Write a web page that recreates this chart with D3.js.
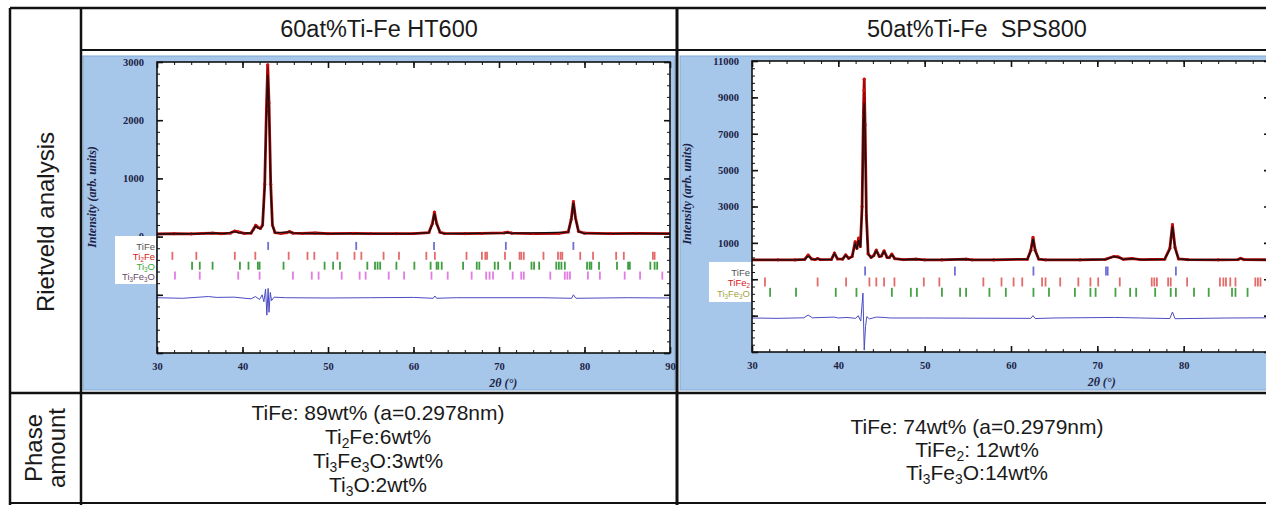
<!DOCTYPE html>
<html>
<head>
<meta charset="utf-8">
<script src="https://cdn.jsdelivr.net/npm/d3@7"></script>
<style>
  body { margin: 0; background: #fff; }
  svg { display: block; }
</style>
</head>
<body>
<div id="chart"></div>
<script>
// table text
const headers = ["60at%Ti-Fe HT600", "50at%Ti-Fe  SPS800"];
const htPhases = ["TiFe: 89wt% (a=0.2978nm)", "Ti_2Fe:6wt%", "Ti_3Fe_3O:3wt%", "Ti_3O:2wt%"];
const spsPhases = ["TiFe: 74wt% (a=0.2979nm)", "TiFe_2: 12wt%", "Ti_3Fe_3O:14wt%"];

// HT600 profile, [2theta, intensity]
const htObs = [[30,45],[32,50],[34,48],[35.5,55],[36.5,60],[37.5,50],[38.6,60],[39.1,95],[39.5,80],[40.2,55],[41,60],[41.3,130],[41.55,195],[41.8,160],[42.1,140],[42.35,200],[42.6,900],[42.8,2200],[42.95,2950],[43.1,2300],[43.3,900],[43.5,200],[43.8,70],[44.5,55],[45.2,70],[45.5,85],[45.9,60],[47,55],[48.5,62],[50,50],[53,55],[55,52],[58,50],[60,52],[61.8,70],[62.2,220],[62.45,420],[62.7,230],[63.1,75],[63.6,55],[66,50],[68,55],[70.6,65],[71,75],[71.5,58],[74,52],[77,55],[78.1,80],[78.45,300],[78.7,600],[78.95,320],[79.3,90],[80,58],[83,52],[86,55],[90,50]];
const htCalc = [[30,45],[35,52],[36.5,58],[38,52],[39.1,85],[39.6,65],[41,58],[41.3,125],[41.55,185],[41.8,150],[42.1,135],[42.35,190],[42.6,850],[42.8,2100],[42.95,2780],[43.1,2200],[43.3,850],[43.5,190],[43.8,65],[45.5,80],[46,58],[50,50],[60,50],[61.8,68],[62.2,210],[62.45,400],[62.7,220],[63.1,70],[63.6,52],[70.6,60],[71,70],[71.5,55],[78.1,75],[78.45,290],[78.7,580],[78.95,310],[79.3,85],[80,55],[90,50]];
const htDiff = [[30,-1050],[33,-1060],[36,-1030],[37,-1045],[39,-1040],[41,-1070],[41.5,-1030],[42,-1080],[42.3,-1000],[42.5,-1120],[42.7,-900],[42.85,-1350],[43.0,-890],[43.1,-1300],[43.25,-960],[43.4,-1100],[43.7,-1040],[45,-1050],[50,-1055],[55,-1050],[60,-1045],[62.3,-1060],[62.5,-1020],[62.7,-1060],[65,-1050],[70,-1050],[75,-1050],[78.5,-1060],[78.7,-1000],[79,-1060],[85,-1050],[90,-1055]];

// HT600 reflection positions
const htTiFe = [43.0, 53.3, 62.4, 70.8, 78.7];
const htTi2Fe = [31.8, 34.6, 39.1, 41.5, 45.4, 47.6, 48.4, 51.1, 53.1, 53.9, 56.5, 58.3, 61.5, 62.5, 66.2, 68.0, 68.4, 68.6, 70.7, 72.4, 72.6, 72.9, 75.2, 76.9, 77.2, 77.4, 79.5, 81.0, 83.7, 84.6, 88.0, 88.2];
const htTi3O = [34.1, 35.0, 36.5, 39.7, 40.7, 41.8, 42.0, 44.8, 49.6, 50.6, 51.4, 54.6, 55.5, 55.8, 56.1, 58.0, 60.1, 62.0, 62.7, 62.9, 63.3, 65.8, 67.4, 67.7, 69.5, 69.9, 71.3, 73.8, 74.1, 74.7, 76.7, 77.0, 77.3, 77.7, 80.3, 80.6, 80.8, 81.7, 83.8, 85.1, 85.3, 87.7, 88.2, 88.5];
const htTi3Fe3O = [32.1, 35.0, 39.5, 42.0, 45.9, 48.1, 48.9, 51.6, 53.7, 54.4, 57.1, 58.9, 62.1, 64.0, 66.8, 68.5, 68.9, 69.3, 71.6, 72.6, 72.9, 76.0, 77.7, 78.0, 78.3, 80.4, 81.8, 84.7, 86.5, 89.1];

// SPS800 profile
const spsObs = [[30,60],[33,70],[35,65],[36.1,90],[36.5,330],[36.9,120],[37.3,80],[37.6,140],[37.9,80],[39.2,90],[39.55,440],[39.9,120],[40.5,110],[40.85,340],[41.2,150],[41.6,250],[41.95,1060],[42.15,700],[42.35,1260],[42.55,800],[42.75,3000],[42.9,8000],[42.97,9400],[43.0,10000],[43.1,7500],[43.25,2500],[43.45,400],[43.8,200],[44.1,300],[44.4,600],[44.75,250],[45.0,280],[45.3,560],[45.65,200],[45.9,190],[46.2,380],[46.55,130],[47.5,80],[49,110],[50,70],[52,65],[54.8,110],[55.5,70],[58,65],[61.9,100],[62.3,600],[62.55,1300],[62.8,600],[63.2,110],[64,70],[68,65],[70.9,90],[71.9,250],[72.4,230],[73,100],[74.1,140],[75,80],[77.8,100],[78.4,700],[78.7,2000],[79.0,750],[79.4,120],[80.5,75],[84,70],[86.3,80],[86.6,150],[87,80],[90,70]];
const spsCalc = [[30,60],[35,65],[36.1,85],[36.5,280],[36.9,110],[37.3,75],[37.6,130],[37.9,75],[39.2,85],[39.55,420],[39.9,115],[40.5,105],[40.85,320],[41.2,140],[41.6,230],[41.95,950],[42.15,650],[42.35,1150],[42.55,750],[42.75,2800],[42.9,7600],[43.0,8700],[43.1,7000],[43.25,2300],[43.45,380],[43.8,190],[44.1,290],[44.4,570],[44.75,240],[45.0,270],[45.3,530],[45.65,190],[45.9,180],[46.2,360],[46.55,125],[47.5,75],[49,100],[50,68],[54.8,100],[55.5,68],[61.9,95],[62.3,560],[62.55,1220],[62.8,560],[63.2,105],[64,68],[70.9,85],[71.9,240],[72.4,220],[73,95],[74.1,130],[75,78],[77.8,95],[78.4,650],[78.7,1900],[79.0,700],[79.4,115],[80.5,72],[86.3,78],[86.6,140],[87,78],[90,68]];
const spsDiff = [[30,-3130],[33,-3150],[36,-3120],[36.5,-2970],[37,-3120],[39.5,-3080],[40,-3130],[41,-3100],[42,-3150],[42.3,-3000],[42.6,-3300],[42.85,-1760],[43.0,-4900],[43.15,-3600],[43.3,-3050],[43.6,-3180],[44.4,-3080],[45.3,-3100],[46,-3130],[50,-3130],[55,-3140],[62.3,-3150],[62.55,-3000],[62.8,-3160],[65,-3130],[72,-3100],[75,-3130],[78.4,-3160],[78.7,-2800],[79,-3170],[85,-3130],[90,-3120]];

// SPS800 reflection positions
const spsTiFe = [43.1, 53.5, 62.6, 71.0, 71.2, 79.1];
const spsTiFe2 = [31.5, 37.6, 40.9, 43.6, 44.4, 45.3, 46.5, 49.9, 51.7, 56.8, 58.9, 60.3, 61.3, 63.6, 64.0, 65.7, 67.8, 69.2, 70.1, 72.6, 76.3, 76.6, 76.9, 78.2, 78.5, 80.4, 84.2, 84.6, 84.9, 85.4, 86.0, 88.3, 88.6, 88.9];
const spsTi3Fe3O = [32.1, 35.1, 39.7, 42.1, 46.2, 48.4, 49.1, 52.0, 54.1, 54.8, 57.5, 59.4, 62.6, 64.4, 67.4, 69.2, 69.8, 72.1, 73.8, 74.5, 76.7, 78.5, 79.1, 81.2, 82.9, 85.6, 86.0, 87.4];

// axis ticks
const xMajor = d3.range(30, 91, 10);
const xMinor = d3.range(30, 91, 2);
const htXLabels = [30, 40, 50, 60, 70, 80, 90];
const spsXLabels = [30, 40, 50, 60, 70, 80];   // 90 falls outside the photo
const htYMajor = [-2000, -1000, 0, 1000, 2000, 3000];
const htYMinor = d3.range(-2000, 3001, 200);
const htYLabels = [0, 1000, 2000, 3000];
const spsYMajor = [-5000, -3000, -1000, 1000, 3000, 5000, 7000, 9000, 11000];
const spsYMinor = d3.range(-5000, 11001, 400);
const spsYLabels = [1000, 3000, 5000, 7000, 9000, 11000];

const W = 1266, H = 505;
const svg = d3.select("#chart").append("svg").attr("width", W).attr("height", H);
svg.append("rect").attr("width", W).attr("height", H).attr("fill", "#fff");

// writes "Ti_3Fe_3O" style strings with subscripts
function rich(text, str, fs) {
  let shifted = false;
  str.split(/_(\d)/).forEach((p, i) => {
    if (!p) return;
    const t = text.append("tspan").text(p);
    if (i % 2 === 1) {
      t.attr("font-size", fs * 0.66).attr("dy", fs * 0.2);
      shifted = true;
    } else if (shifted) {
      t.attr("dy", -fs * 0.2);
      shifted = false;
    }
  });
}

const serif = "'Liberation Serif', serif";

function panel(cfg) {
  const g = svg.append("g");
  g.append("rect")
    .attr("x", cfg.bx0).attr("y", 56).attr("width", cfg.bx1 - cfg.bx0).attr("height", 334)
    .attr("fill", "#a6c6ea").attr("stroke", "#7fa9d8").attr("stroke-width", 1);

  const x = d3.scaleLinear([30, 90], [cfg.left, cfg.right]);
  const y = d3.scaleLinear(cfg.yDomain, [cfg.bottom, cfg.top]);

  g.append("rect")
    .attr("x", cfg.left).attr("y", cfg.top)
    .attr("width", cfg.right - cfg.left).attr("height", cfg.bottom - cfg.top)
    .attr("fill", "#fff");

  const clipId = "clip" + cfg.id;
  svg.append("clipPath").attr("id", clipId).append("rect")
    .attr("x", cfg.left).attr("y", cfg.top)
    .attr("width", cfg.right - cfg.left).attr("height", cfg.bottom - cfg.top);
  const plot = g.append("g").attr("clip-path", `url(#${clipId})`);

  const line = d3.line().x(d => x(d[0])).y(d => y(d[1]));

  // reflection markers
  cfg.phases.forEach(ph => {
    plot.selectAll(null).data(ph.pos).enter().append("line")
      .attr("x1", d => x(d)).attr("x2", d => x(d))
      .attr("y1", y(ph.row) - cfg.tickH / 2).attr("y2", y(ph.row) + cfg.tickH / 2)
      .attr("stroke", ph.color).attr("stroke-width", 1.8);
  });

  plot.append("path").datum(cfg.diff).attr("d", line)
    .attr("fill", "none").attr("stroke", "#4b4bc4").attr("stroke-width", 1);

  plot.append("path").datum(cfg.obs).attr("d", line)
    .attr("fill", "none").attr("stroke", "#a80000").attr("stroke-width", 2.8)
    .attr("stroke-linejoin", "round");
  plot.selectAll(null).data(cfg.obs).enter().append("circle")
    .attr("cx", d => x(d[0])).attr("cy", d => y(d[1])).attr("r", 1.6)
    .attr("fill", "#d01010");
  plot.append("path").datum(cfg.calc).attr("d", line)
    .attr("fill", "none").attr("stroke", "#111").attr("stroke-width", 1.3);

  // axes
  const styleAxis = (a, w) => {
    a.select(".domain").remove();
    a.selectAll(".tick line").attr("stroke", "#111").attr("stroke-width", w);
    a.selectAll("text").attr("font-family", serif)
      .attr("font-weight", "bold").attr("font-size", 10.5).attr("fill", "#1c2244");
  };
  g.append("g").attr("transform", `translate(0,${cfg.bottom})`)
    .call(d3.axisBottom(x).tickValues(xMinor).tickSize(-3).tickFormat(""))
    .call(a => styleAxis(a, 1));
  g.append("g").attr("transform", `translate(0,${cfg.bottom})`)
    .call(d3.axisBottom(x).tickValues(xMajor).tickSizeInner(-6).tickSizeOuter(0).tickPadding(10)
      .tickFormat(d => cfg.xLabels.includes(d) ? d : ""))
    .call(a => styleAxis(a, 1.6));
  g.append("g").attr("transform", `translate(0,${cfg.top})`)
    .call(d3.axisTop(x).tickValues(xMinor).tickSize(-3).tickFormat(""))
    .call(a => styleAxis(a, 1));
  g.append("g").attr("transform", `translate(0,${cfg.top})`)
    .call(d3.axisTop(x).tickValues(xMajor).tickSize(-6).tickFormat(""))
    .call(a => styleAxis(a, 1.6));
  g.append("g").attr("transform", `translate(${cfg.left},0)`)
    .call(d3.axisLeft(y).tickValues(cfg.yMinor).tickSize(-3).tickFormat(""))
    .call(a => styleAxis(a, 1));
  g.append("g").attr("transform", `translate(${cfg.left},0)`)
    .call(d3.axisLeft(y).tickValues(cfg.yMajor).tickSizeInner(-6).tickSizeOuter(0).tickPadding(13)
      .tickFormat(d => cfg.yLabels.includes(d) ? d : ""))
    .call(a => styleAxis(a, 1.6));
  g.append("g").attr("transform", `translate(${cfg.right},0)`)
    .call(d3.axisRight(y).tickValues(cfg.yMinor).tickSize(-3).tickFormat(""))
    .call(a => styleAxis(a, 1));
  g.append("g").attr("transform", `translate(${cfg.right},0)`)
    .call(d3.axisRight(y).tickValues(cfg.yMajor).tickSize(-6).tickFormat(""))
    .call(a => styleAxis(a, 1.6));

  g.append("rect")
    .attr("x", cfg.left).attr("y", cfg.top)
    .attr("width", cfg.right - cfg.left).attr("height", cfg.bottom - cfg.top)
    .attr("fill", "none").attr("stroke", "#111").attr("stroke-width", 1.6);

  // axis titles
  g.append("text")
    .attr("transform", `translate(${cfg.left - 61},${y(cfg.yTitleAt)}) rotate(-90)`)
    .attr("text-anchor", "middle")
    .attr("font-family", serif).attr("font-weight", "bold")
    .attr("font-style", "italic").attr("font-size", 12).attr("fill", "#1c2244")
    .text("Intensity (arb. units)");
  g.append("text")
    .attr("x", x(70.5)).attr("y", cfg.bottom + 34)
    .attr("text-anchor", "middle")
    .attr("font-family", serif).attr("font-weight", "bold")
    .attr("font-style", "italic").attr("font-size", 12).attr("fill", "#1c2244")
    .text("2θ (°)");

  // phase legend
  const lg = cfg.legend;
  g.append("rect").attr("x", lg.x0).attr("y", lg.y0)
    .attr("width", cfg.left - lg.x0 - 1).attr("height", lg.y1 - lg.y0).attr("fill", "#fff");
  cfg.phases.forEach(ph => {
    const t = g.append("text")
      .attr("x", cfg.left - 2).attr("y", y(ph.row) + 4.5)
      .attr("text-anchor", "end")
      .attr("font-family", "'Liberation Sans', Arial, sans-serif")
      .attr("font-size", 9.5).attr("fill", ph.label);
    rich(t, ph.name, 9.5);
  });
}

panel({
  id: "ht", bx0: 83, bx1: 675,
  left: 157, right: 670, top: 62, bottom: 353,
  yDomain: [-2000, 3000], yMajor: htYMajor, yMinor: htYMinor, yLabels: htYLabels, yTitleAt: 680,
  xLabels: htXLabels,
  obs: htObs, calc: htCalc, diff: htDiff, tickH: 8,
  legend: { x0: 115, y0: 236, y1: 284 },
  phases: [
    { name: "TiFe", pos: htTiFe, row: -160, color: "#6f6fd6", label: "#555" },
    { name: "Ti_2Fe", pos: htTi2Fe, row: -330, color: "#e56b6b", label: "#d42020" },
    { name: "Ti_3O", pos: htTi3O, row: -500, color: "#3f9e3f", label: "#3cab3c" },
    { name: "Ti_3Fe_3O", pos: htTi3Fe3O, row: -670, color: "#e27be2", label: "#6b4a6b" }
  ]
});

panel({
  id: "sps", bx0: 680, bx1: 1270,
  left: 752, right: 1270, top: 61, bottom: 352,
  yDomain: [-5000, 11000], yMajor: spsYMajor, yMinor: spsYMinor, yLabels: spsYLabels, yTitleAt: 3700,
  xLabels: spsXLabels,
  obs: spsObs, calc: spsCalc, diff: spsDiff, tickH: 9,
  legend: { x0: 709, y0: 262, y1: 302 },
  phases: [
    { name: "TiFe", pos: spsTiFe, row: -550, color: "#6f6fd6", label: "#555" },
    { name: "TiFe_2", pos: spsTiFe2, row: -1150, color: "#e56b6b", label: "#d42020" },
    { name: "Ti_3Fe_3O", pos: spsTi3Fe3O, row: -1720, color: "#45a345", label: "#a3a345" }
  ]
});

// table grid
const grid = svg.append("g").attr("stroke", "#111").attr("fill", "none");
[[10, 8, 1266, 8, 2.5], [81, 50, 1266, 50, 2], [10, 393, 1266, 393, 2.5], [10, 503, 1266, 503, 2],
 [10, 8, 10, 505, 2.5], [81, 8, 81, 505, 2.5], [677, 8, 677, 505, 3]].forEach(l => {
  grid.append("line").attr("x1", l[0]).attr("y1", l[1]).attr("x2", l[2]).attr("y2", l[3])
    .attr("stroke-width", l[4]);
});

const sans = "'Liberation Sans', Arial, sans-serif";
svg.selectAll(null).data(headers).enter().append("text")
  .attr("x", (d, i) => i === 0 ? 379 : 977).attr("y", 37)
  .attr("text-anchor", "middle").attr("font-family", sans).attr("font-size", 23.5)
  .attr("fill", "#1a1a1a").style("white-space", "pre")
  .text(d => d);

svg.append("text")
  .attr("transform", "translate(45,222) rotate(-90)")
  .attr("text-anchor", "middle").attr("dominant-baseline", "central")
  .attr("font-family", sans).attr("font-size", 24).attr("fill", "#1a1a1a")
  .text("Rietveld analysis");
[["Phase", 33], ["amount", 56]].forEach(p => {
  svg.append("text")
    .attr("transform", `translate(${p[1]},448) rotate(-90)`)
    .attr("text-anchor", "middle").attr("dominant-baseline", "central")
    .attr("font-family", sans).attr("font-size", 24).attr("fill", "#1a1a1a")
    .text(p[0]);
});

htPhases.forEach((s, i) => {
  const t = svg.append("text").attr("x", 378).attr("y", 420 + i * 24)
    .attr("text-anchor", "middle").attr("font-family", sans).attr("font-size", 21).attr("fill", "#1a1a1a");
  rich(t, s, 21);
});
spsPhases.forEach((s, i) => {
  const t = svg.append("text").attr("x", 977).attr("y", 434 + i * 23)
    .attr("text-anchor", "middle").attr("font-family", sans).attr("font-size", 21).attr("fill", "#1a1a1a");
  rich(t, s, 21);
});
</script>
</body>
</html>
